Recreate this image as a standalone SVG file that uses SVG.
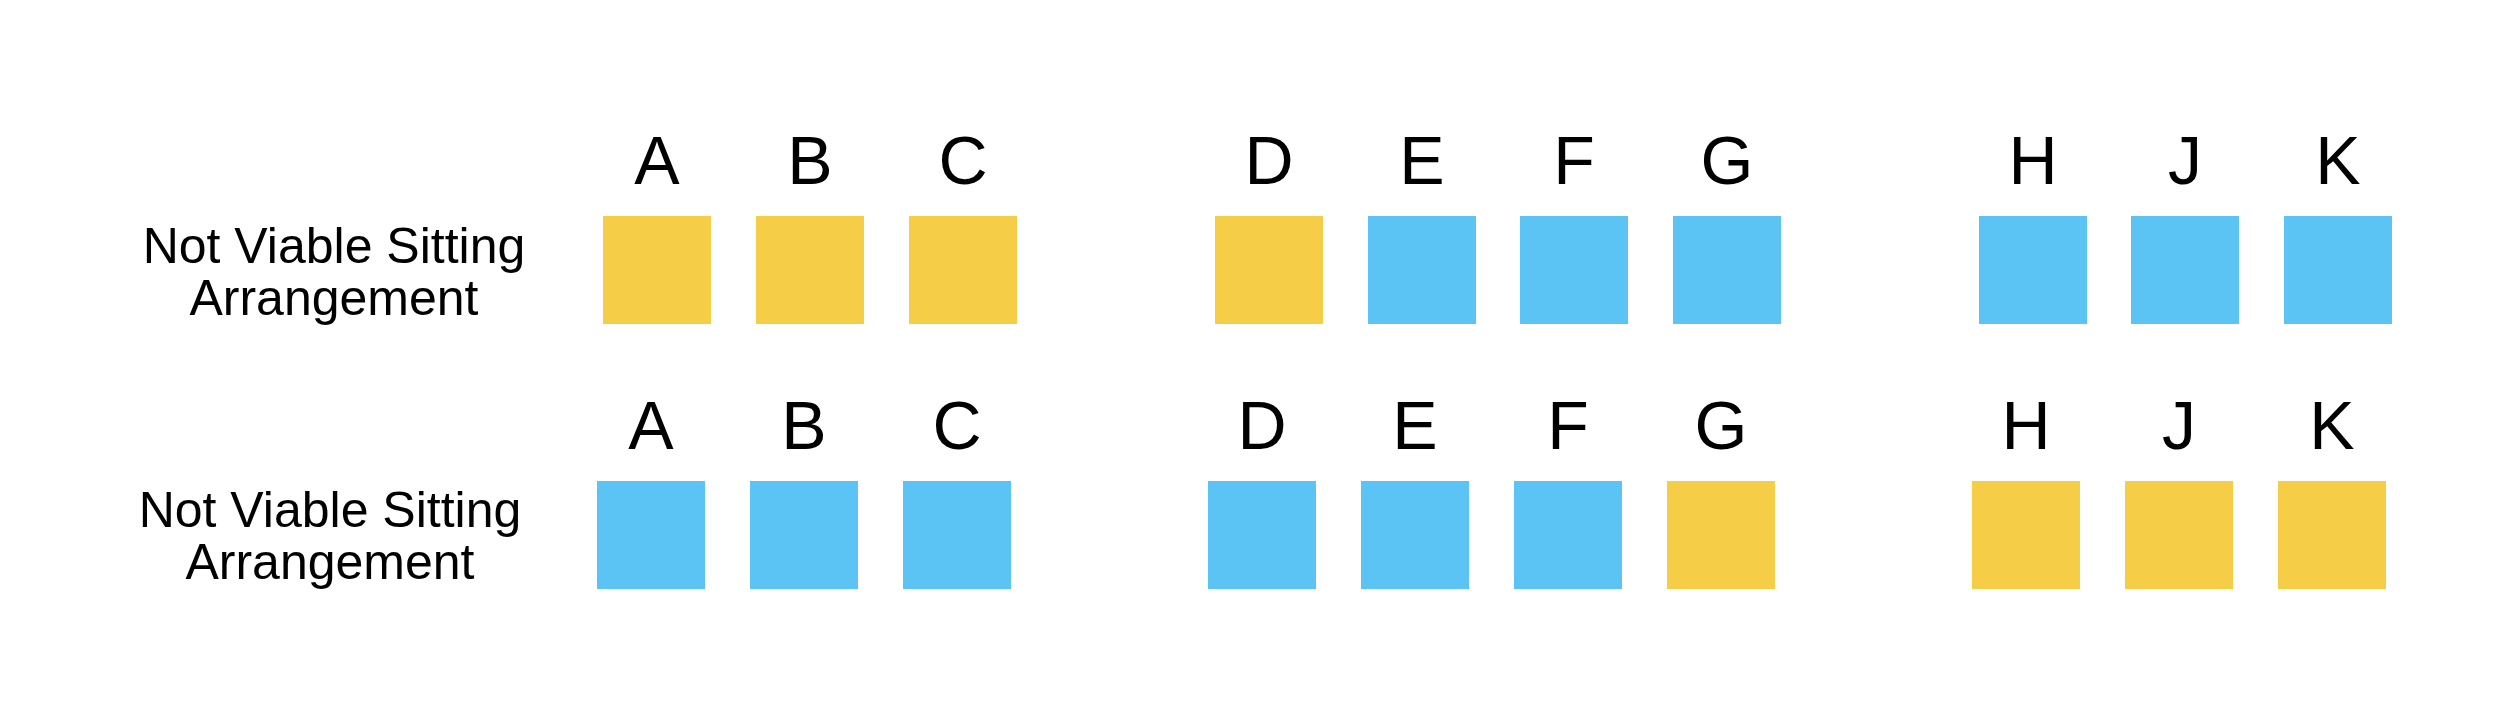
<svg xmlns="http://www.w3.org/2000/svg" width="2496" height="709" viewBox="0 0 2496 709">
<style>
.y{fill:#F6CD46}
.b{fill:#5BC4F5}
.l{font-family:"Liberation Sans",Arial,sans-serif;font-size:68px;fill:#000;text-anchor:middle}
.t{font-family:"Liberation Sans",Arial,sans-serif;font-size:50px;fill:#000;text-anchor:middle}
</style>
<rect width="2496" height="709" fill="#fff"/>
<g id="row1-label"><text class="t" x="334" y="263">Not Viable Sitting</text><text class="t" x="334" y="315">Arrangement</text></g>
<g id="row1-A"><text class="l" x="657" y="184">A</text><rect class="y" x="603" y="216" width="108" height="108"/></g>
<g id="row1-B"><text class="l" x="810" y="184">B</text><rect class="y" x="756" y="216" width="108" height="108"/></g>
<g id="row1-C"><text class="l" x="963" y="184">C</text><rect class="y" x="909" y="216" width="108" height="108"/></g>
<g id="row1-D"><text class="l" x="1269" y="184">D</text><rect class="y" x="1215" y="216" width="108" height="108"/></g>
<g id="row1-E"><text class="l" x="1422" y="184">E</text><rect class="b" x="1368" y="216" width="108" height="108"/></g>
<g id="row1-F"><text class="l" x="1574" y="184">F</text><rect class="b" x="1520" y="216" width="108" height="108"/></g>
<g id="row1-G"><text class="l" x="1727" y="184">G</text><rect class="b" x="1673" y="216" width="108" height="108"/></g>
<g id="row1-H"><text class="l" x="2033" y="184">H</text><rect class="b" x="1979" y="216" width="108" height="108"/></g>
<g id="row1-J"><text class="l" x="2185" y="184">J</text><rect class="b" x="2131" y="216" width="108" height="108"/></g>
<g id="row1-K"><text class="l" x="2338" y="184">K</text><rect class="b" x="2284" y="216" width="108" height="108"/></g>
<g id="row2-label"><text class="t" x="330" y="527">Not Viable Sitting</text><text class="t" x="330" y="579">Arrangement</text></g>
<g id="row2-A"><text class="l" x="651" y="449">A</text><rect class="b" x="597" y="481" width="108" height="108"/></g>
<g id="row2-B"><text class="l" x="804" y="449">B</text><rect class="b" x="750" y="481" width="108" height="108"/></g>
<g id="row2-C"><text class="l" x="957" y="449">C</text><rect class="b" x="903" y="481" width="108" height="108"/></g>
<g id="row2-D"><text class="l" x="1262" y="449">D</text><rect class="b" x="1208" y="481" width="108" height="108"/></g>
<g id="row2-E"><text class="l" x="1415" y="449">E</text><rect class="b" x="1361" y="481" width="108" height="108"/></g>
<g id="row2-F"><text class="l" x="1568" y="449">F</text><rect class="b" x="1514" y="481" width="108" height="108"/></g>
<g id="row2-G"><text class="l" x="1721" y="449">G</text><rect class="y" x="1667" y="481" width="108" height="108"/></g>
<g id="row2-H"><text class="l" x="2026" y="449">H</text><rect class="y" x="1972" y="481" width="108" height="108"/></g>
<g id="row2-J"><text class="l" x="2179" y="449">J</text><rect class="y" x="2125" y="481" width="108" height="108"/></g>
<g id="row2-K"><text class="l" x="2332" y="449">K</text><rect class="y" x="2278" y="481" width="108" height="108"/></g>
<g id="connectors"/>
</svg>
